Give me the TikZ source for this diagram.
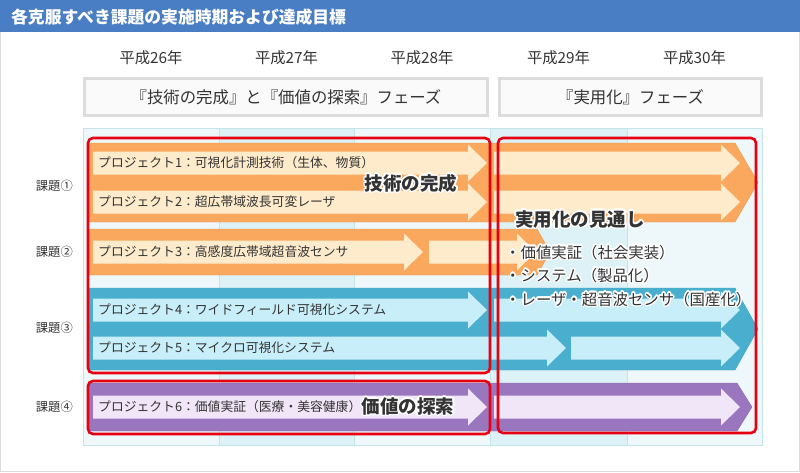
\documentclass[tikz,border=0pt]{standalone}
\usepackage{fontspec}
\setmainfont{Noto Sans CJK JP}
\usepackage{contour}
\contourlength{1.4pt}

\definecolor{titleblue}{HTML}{4A7EC4}
\definecolor{framegray}{HTML}{DCDCDC}
\definecolor{phasefill}{HTML}{FAFAFA}
\definecolor{gridlite}{HTML}{EEF8FA}
\definecolor{griddark}{HTML}{DDF2F6}
\definecolor{gridline}{HTML}{C4E4EA}
\definecolor{orangeband}{HTML}{F9A85D}
\definecolor{orangelite}{HTML}{FEEBCB}
\definecolor{blueband}{HTML}{4AAFCF}
\definecolor{bluelite}{HTML}{C8EEF9}
\definecolor{purpleband}{HTML}{9A76BE}
\definecolor{purplelite}{HTML}{F0E6F8}
\definecolor{goalred}{HTML}{E60012}
\definecolor{textgray}{HTML}{333333}

\begin{document}
\begin{tikzpicture}[x=1pt, y=-1pt,
    yearlabel/.style={font=\fontsize{15.3}{17}\selectfont, text=textgray, inner sep=0pt},
    phasebox/.style={draw=framegray, line width=3pt, fill=phasefill, minimum height=37pt, inner sep=0pt,
      font=\fontsize{16.4}{18}\selectfont, text=textgray},
    rowlabel/.style={font=\fontsize{12.3}{14}\selectfont, text=textgray, anchor=east, inner sep=0pt},
    projlabel/.style={font=\fontsize{12.8}{14}\selectfont, text=textgray, anchor=west, inner sep=0pt},
    goalbox/.style={draw=goalred, line width=2.6pt, rounded corners=5pt},
    goallabel/.style={font=\bfseries\fontsize{18.5}{20}\selectfont, text=textgray, inner sep=0pt},
    pointlabel/.style={font=\fontsize{15.4}{17}\selectfont, text=textgray, anchor=west, inner sep=0pt}
  ]
  \useasboundingbox (0,0) rectangle (800,472);

  % Frame and title
  \draw[framegray] (0.5,0.5) rectangle (799.5,471.5);
  \fill[titleblue] (0,0) rectangle (800,32);
  \node[anchor=west, text=white, font=\bfseries\fontsize{16.8}{18}\selectfont, inner sep=0pt] (title) at (11,17)
    {各克服すべき課題の実施時期および達成目標};

  % Years
  \foreach \yr/\x in {26/151, 27/286.5, 28/422, 29/558.5, 30/694.5}
    \node[yearlabel] (yr\yr) at (\x,58) {平成\yr 年};

  % Phases
  \node[phasebox, minimum width=403pt] (phase1) at (286,97) {『技術の完成』と『価値の探索』フェーズ};
  \node[phasebox, minimum width=262pt] (phase2) at (630.5,97) {『実用化』フェーズ};

  % Grid
  \fill[gridlite] (83,128) rectangle (762,445);
  \fill[griddark] (219,128) rectangle (354,445);
  \fill[griddark] (490,128) rectangle (627,445);
  \foreach \x in {219,354,490,627}
    \draw[gridline] (\x,128) -- (\x,445);
  \draw[gridline] (83,128) rectangle (762,445);

  % Bands
  \foreach \ya/\yb/\xe/\xt/\col in {143/222/735/758/orangeband, 229/275/537/550/orangeband,
      288/370/735/758/blueband, 383/431/737/752/purpleband}
    \filldraw[fill=\col, draw=\col!92!black, line width=0.4pt]
      (89,\ya) -- (\xe,\ya) -- (\xt,{(\ya+\yb)/2}) -- (\xe,\yb) -- (89,\yb) -- cycle;

  % Project arrows
  \foreach \xa/\xb/\yc/\col in {93/468/163/orangelite, 494/721/163/orangelite,
      93/468/202/orangelite, 494/721/202/orangelite,
      93/404/252/orangelite, 429/517/252/orangelite,
      93/468/310/bluelite, 494/721/310/bluelite,
      93/547/348/bluelite, 571/721/348/bluelite,
      93/468/407/purplelite, 494/721/407/purplelite}
    \fill[\col] (\xa,\yc-11.5) -- (\xb,\yc-11.5) -- (\xb,\yc-18.5) -- (\xb+19,\yc)
      -- (\xb,\yc+18.5) -- (\xb,\yc+11.5) -- (\xa,\yc+11.5) -- cycle;

  % Topics
  \node[rowlabel] (topic1) at (73,186) {課題①};
  \node[rowlabel] (topic2) at (73,252) {課題②};
  \node[rowlabel] (topic3) at (73,328) {課題③};
  \node[rowlabel] (topic4) at (73,407) {課題④};

  % Projects
  \node[projlabel] (proj1) at (98,163) {プロジェクト1：可視化計測技術（生体、物質）};
  \node[projlabel] (proj2) at (98,202) {プロジェクト2：超広帯域波長可変レーザ};
  \node[projlabel] (proj3) at (98,252) {プロジェクト3：高感度広帯域超音波センサ};
  \node[projlabel] (proj4) at (98,310) {プロジェクト4：ワイドフィールド可視化システム};
  \node[projlabel] (proj5) at (98,348) {プロジェクト5：マイクロ可視化システム};
  \node[projlabel] (proj6) at (98,407) {プロジェクト6：価値実証（医療・美容健康）};

  % Goals
  \draw[goalbox] (88,138) rectangle (490,373);
  \draw[goalbox] (88,381) rectangle (490,434);
  \draw[goalbox] (498,138) rectangle (756,433);
  \node[goallabel] (tech) at (411,184) {\contour{white}{技術の完成}};
  \node[goallabel] (value) at (408,407) {\contour{white}{価値の探索}};
  \node[goallabel, anchor=west] (outlook) at (515,220) {\contour{white}{実用化の見通し}};
  \node[pointlabel] (point1) at (505,253) {\contour{white}{・価値実証（社会実装）}};
  \node[pointlabel] (point2) at (505,276) {\contour{white}{・システム（製品化）}};
  \node[pointlabel] (point3) at (505,300) {\contour{white}{・レーザ・超音波センサ（国産化）}};
\end{tikzpicture}
\end{document}
